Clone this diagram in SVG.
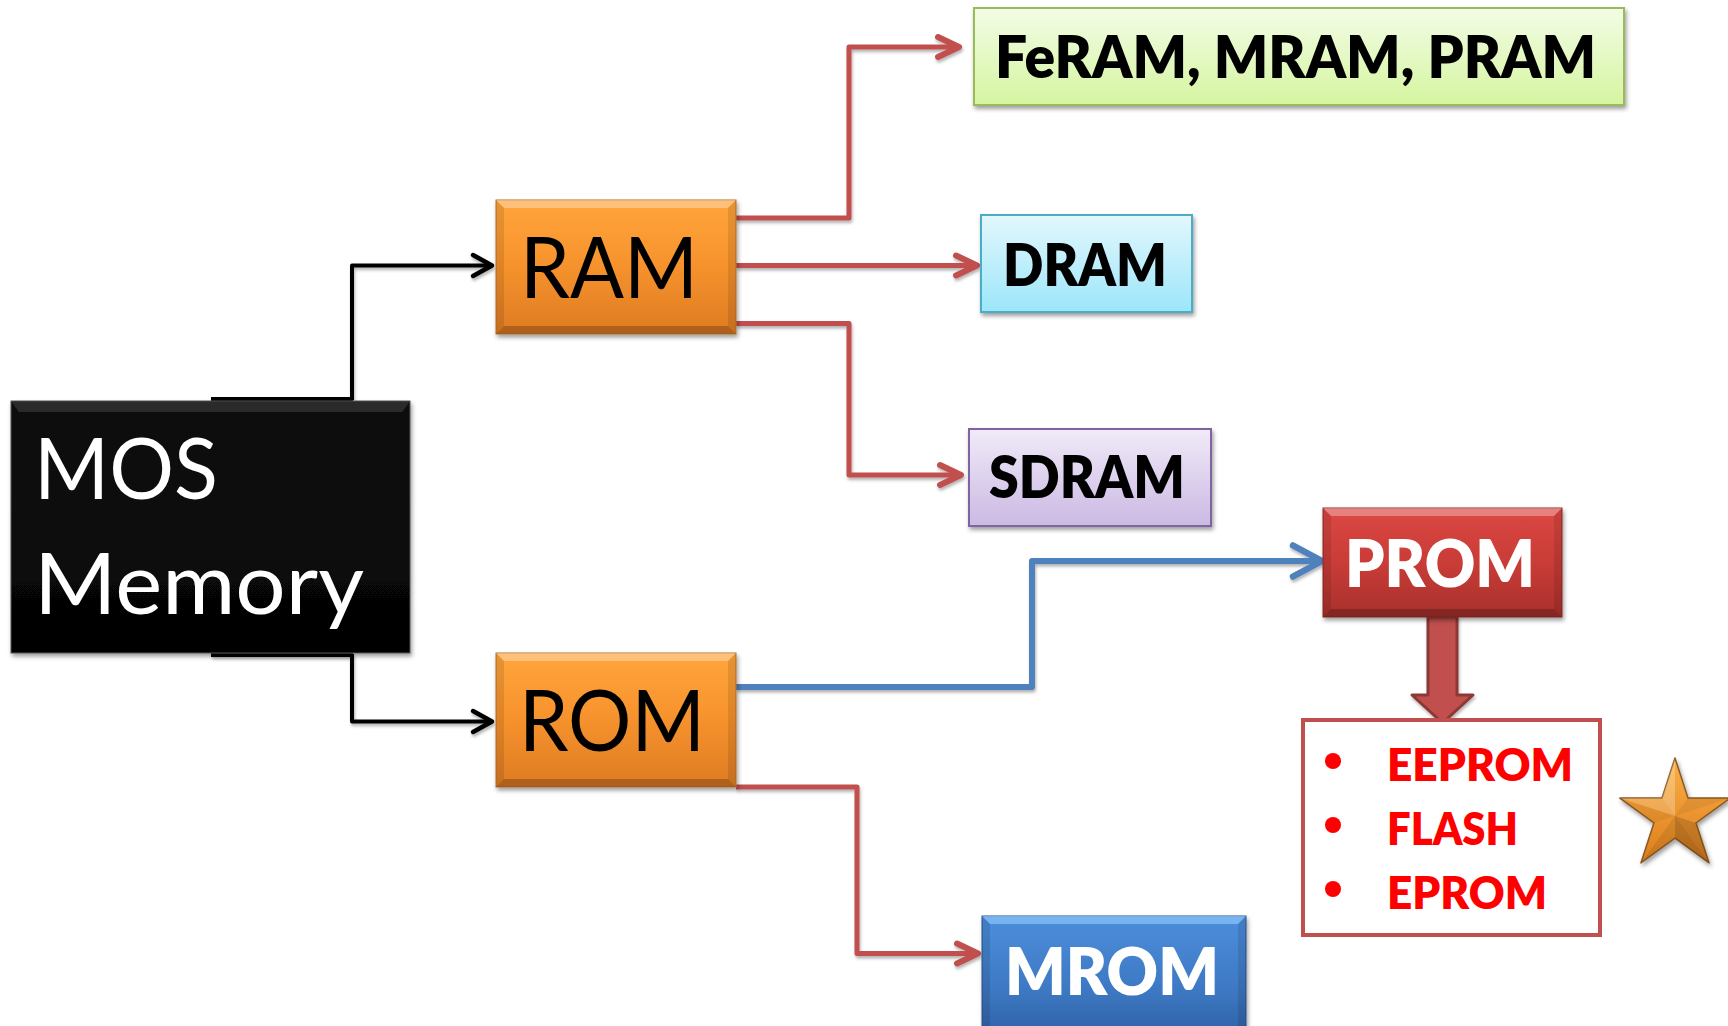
<svg xmlns="http://www.w3.org/2000/svg" width="1728" height="1026" viewBox="0 0 1728 1026">
  <style>
    .lbl { font-family: Lato, "Open Sans", "Liberation Sans", sans-serif; }
    .reg { font-weight: 400; }
    .bold { font-weight: 800; }
    .bv-top { fill: #ffffff; opacity: 0.32; }
    .bv-bot { fill: #000000; opacity: 0.22; }
    .bv-side { fill: #000000; opacity: 0.10; }
    .wire { fill: none; stroke-linejoin: round; }
    .head { fill: none; stroke-linecap: round; stroke-linejoin: round; }
    .red { stroke: #C0504D; stroke-width: 5; }
    .redh { stroke: #C0504D; stroke-width: 6; }
    .blue { stroke: #4F81BD; stroke-width: 6; }
    .blueh { stroke: #4F81BD; stroke-width: 6.5; }
    .blk { stroke: #000000; stroke-width: 4; }
    .blkh { stroke: #000000; stroke-width: 4.5; }
  </style>
  <defs>
    <filter id="shadow" x="-10%" y="-10%" width="130%" height="140%">
      <feDropShadow dx="1.5" dy="3" stdDeviation="2" flood-color="#000" flood-opacity="0.38"/>
    </filter>
    <filter id="wshadow" x="-5%" y="-5%" width="110%" height="115%">
      <feDropShadow dx="1" dy="2.5" stdDeviation="1.6" flood-color="#000" flood-opacity="0.3"/>
    </filter>
    <linearGradient id="gOrange" x1="0" y1="0" x2="0" y2="1">
      <stop offset="0" stop-color="#FFA53C"/>
      <stop offset="0.45" stop-color="#F8942E"/>
      <stop offset="1" stop-color="#DE7B22"/>
    </linearGradient>
    <linearGradient id="gBlack" x1="0" y1="0" x2="0" y2="1">
      <stop offset="0" stop-color="#111"/>
      <stop offset="1" stop-color="#030303"/>
    </linearGradient>
    <linearGradient id="gGreen" x1="0" y1="0" x2="0" y2="1">
      <stop offset="0" stop-color="#F3FCE6"/>
      <stop offset="1" stop-color="#D5F5A0"/>
    </linearGradient>
    <linearGradient id="gCyan" x1="0" y1="0" x2="0" y2="1">
      <stop offset="0" stop-color="#E3F7FD"/>
      <stop offset="1" stop-color="#9CE6FA"/>
    </linearGradient>
    <linearGradient id="gLilac" x1="0" y1="0" x2="0" y2="1">
      <stop offset="0" stop-color="#F0EAF8"/>
      <stop offset="1" stop-color="#CBB9E3"/>
    </linearGradient>
    <linearGradient id="gRed" x1="0" y1="0" x2="0" y2="1">
      <stop offset="0" stop-color="#DC4843"/>
      <stop offset="0.5" stop-color="#C93C37"/>
      <stop offset="1" stop-color="#A8302C"/>
    </linearGradient>
    <linearGradient id="gBlue" x1="0" y1="0" x2="0" y2="1">
      <stop offset="0" stop-color="#4C8EDC"/>
      <stop offset="0.6" stop-color="#3E79C4"/>
      <stop offset="1" stop-color="#2F62A6"/>
    </linearGradient>
    <linearGradient id="gStar" x1="0" y1="0" x2="0" y2="1">
      <stop offset="0" stop-color="#FBB044"/>
      <stop offset="1" stop-color="#DC7D1E"/>
    </linearGradient>
  </defs>

  <!-- connectors -->
  <g id="connectors" filter="url(#wshadow)">
    <!-- MOS Memory to RAM / ROM -->
    <rect x="211" y="397" width="142" height="5" fill="#000"/>
    <rect x="211" y="652" width="142" height="5" fill="#000"/>
    <path class="wire blk" d="M352,400 V265.5 H490"/>
    <path class="head blkh" d="M473,255 L492,265.5 L473,276"/>
    <path class="wire blk" d="M352,654 V721.5 H490"/>
    <path class="head blkh" d="M473,711 L492,721.5 L473,732"/>

    <!-- RAM branches -->
    <path class="wire red" d="M736,218 H849 V47 H957"/>
    <path class="head redh" d="M938,37 L959,47 L938,57"/>
    <path class="wire red" d="M736,265.5 H975"/>
    <path class="head redh" d="M956,255.5 L977,265.5 L956,275.5"/>
    <path class="wire red" d="M736,323.5 H849 V475 H959"/>
    <path class="head redh" d="M940,465 L961,475 L940,485"/>

    <!-- ROM branches -->
    <path class="wire blue" d="M736,687 H1032 V561 H1320"/>
    <path class="head blueh" d="M1293,545.5 L1322,561 L1293,576.5"/>
    <path class="wire red" d="M736,787 H857 V953.5 H976"/>
    <path class="head redh" d="M957,943.5 L978,953.5 L957,963.5"/>

    <!-- PROM to its family list -->
    <path d="M1428,617 H1457 V695 H1473 L1442.5,723 L1412,695 H1428 Z" fill="#C0504D" stroke="#8C3836" stroke-width="3" stroke-linejoin="round"/>
  </g>

  <!-- MOS Memory -->
  <g id="mos" filter="url(#shadow)">
    <rect x="11" y="401" width="399" height="252" fill="url(#gBlack)" stroke="#555" stroke-width="1"/>
    <polygon points="11,401 410,401 402,412 19,412" fill="#444" opacity="0.55"/>
    <text class="lbl reg" x="34" y="499" font-size="86" fill="#fff" textLength="184" lengthAdjust="spacingAndGlyphs">MOS</text>
    <text class="lbl reg" x="34" y="614" font-size="86" fill="#fff" textLength="330" lengthAdjust="spacingAndGlyphs">Memory</text>
  </g>

  <!-- RAM -->
  <g id="ram" filter="url(#shadow)">
    <rect x="496" y="200" width="240" height="134" fill="url(#gOrange)" stroke="#B8732E" stroke-width="1"/>
    <polygon class="bv-top" points="496,200 736,200 728,208 504,208"/>
    <polygon class="bv-bot" points="496,334 736,334 728,326 504,326"/>
    <polygon class="bv-side" points="496,200 504,208 504,326 496,334"/>
    <polygon class="bv-side" points="736,200 728,208 728,326 736,334"/>
    <text class="lbl reg" x="520" y="298" font-size="86" fill="#000" textLength="178" lengthAdjust="spacingAndGlyphs">RAM</text>
  </g>

  <!-- ROM -->
  <g id="rom" filter="url(#shadow)">
    <rect x="496" y="653" width="240" height="134" fill="url(#gOrange)" stroke="#B8732E" stroke-width="1"/>
    <polygon class="bv-top" points="496,653 736,653 728,661 504,661"/>
    <polygon class="bv-bot" points="496,787 736,787 728,779 504,779"/>
    <polygon class="bv-side" points="496,653 504,661 504,779 496,787"/>
    <polygon class="bv-side" points="736,653 728,661 728,779 736,787"/>
    <text class="lbl reg" x="519" y="751" font-size="86" fill="#000" textLength="186" lengthAdjust="spacingAndGlyphs">ROM</text>
  </g>

  <!-- FeRAM, MRAM, PRAM -->
  <g id="feram" filter="url(#shadow)">
    <rect x="974" y="8" width="650" height="97" fill="url(#gGreen)" stroke="#9BBB59" stroke-width="2"/>
    <text class="lbl bold" x="995" y="78" font-size="59" fill="#000" textLength="601" lengthAdjust="spacingAndGlyphs">FeRAM, MRAM, PRAM</text>
  </g>

  <!-- DRAM -->
  <g id="dram" filter="url(#shadow)">
    <rect x="981" y="215" width="211" height="97" fill="url(#gCyan)" stroke="#4BACC6" stroke-width="2"/>
    <text class="lbl bold" x="1003" y="286" font-size="59" fill="#000" textLength="164" lengthAdjust="spacingAndGlyphs">DRAM</text>
  </g>

  <!-- SDRAM -->
  <g id="sdram" filter="url(#shadow)">
    <rect x="969" y="429" width="242" height="97" fill="url(#gLilac)" stroke="#8064A2" stroke-width="2"/>
    <text class="lbl bold" x="989" y="498" font-size="59" fill="#000" textLength="196" lengthAdjust="spacingAndGlyphs">SDRAM</text>
  </g>

  <!-- PROM -->
  <g id="prom" filter="url(#shadow)">
    <rect x="1323" y="508" width="239" height="109" fill="url(#gRed)" stroke="#8E2B27" stroke-width="1"/>
    <polygon class="bv-top" points="1323,508 1562,508 1554,516 1331,516"/>
    <polygon class="bv-bot" points="1323,617 1562,617 1554,609 1331,609"/>
    <polygon class="bv-side" points="1323,508 1331,516 1331,609 1323,617"/>
    <polygon class="bv-side" points="1562,508 1554,516 1554,609 1562,617"/>
    <text class="lbl bold" x="1345" y="587" font-size="66" fill="#fff" textLength="190" lengthAdjust="spacingAndGlyphs">PROM</text>
  </g>

  <!-- PROM family list -->
  <g id="prom-family">
    <rect x="1303" y="720" width="297" height="215" fill="#fff" stroke="#C0504D" stroke-width="4"/>
    <circle cx="1333" cy="761" r="8" fill="#FF0000"/>
    <circle cx="1333" cy="825" r="8" fill="#FF0000"/>
    <circle cx="1333" cy="889" r="8" fill="#FF0000"/>
    <text class="lbl bold" x="1387" y="781" font-size="46" fill="#FF0000" textLength="186" lengthAdjust="spacingAndGlyphs">EEPROM</text>
    <text class="lbl bold" x="1387" y="845" font-size="46" fill="#FF0000" textLength="131" lengthAdjust="spacingAndGlyphs">FLASH</text>
    <text class="lbl bold" x="1387" y="909" font-size="46" fill="#FF0000" textLength="160" lengthAdjust="spacingAndGlyphs">EPROM</text>
  </g>

  <!-- star mark -->
  <g id="star" filter="url(#shadow)">
    <polygon points="1675,758 1688,798 1730.2,798.1 1696.1,822.9 1709.1,862.9 1675,838.2 1640.9,862.9 1653.9,822.9 1619.8,798.1 1662,798" fill="url(#gStar)" stroke="#8A5A22" stroke-width="1.5" stroke-linejoin="round"/>
    <!-- facets -->
    <polygon points="1675,816 1675,758 1662,798" fill="#fff" opacity="0.25"/>
    <polygon points="1675,816 1662,798 1619.8,798.1" fill="#fff" opacity="0.18"/>
    <polygon points="1675,816 1688,798 1730.2,798.1" fill="#000" opacity="0.06"/>
    <polygon points="1675,816 1696.1,822.9 1709.1,862.9" fill="#000" opacity="0.15"/>
    <polygon points="1675,816 1675,838.2 1709.1,862.9" fill="#000" opacity="0.2"/>
    <polygon points="1675,816 1675,838.2 1640.9,862.9" fill="#000" opacity="0.08"/>
    <polygon points="1675,816 1653.9,822.9 1619.8,798.1" fill="#000" opacity="0.05"/>
  </g>

  <!-- MROM -->
  <g id="mrom" filter="url(#shadow)">
    <rect x="982" y="916" width="264" height="120" fill="url(#gBlue)" stroke="#2A558E" stroke-width="1"/>
    <polygon points="982,916 1246,916 1238,924 990,924" fill="#8CC4F8" opacity="0.7"/>
    <polygon class="bv-side" points="982,916 990,924 990,1036 982,1036"/>
    <polygon class="bv-side" points="1246,916 1238,924 1238,1036 1246,1036"/>
    <text class="lbl bold" x="1005" y="995" font-size="67" fill="#fff" textLength="214" lengthAdjust="spacingAndGlyphs">MROM</text>
  </g>
</svg>
